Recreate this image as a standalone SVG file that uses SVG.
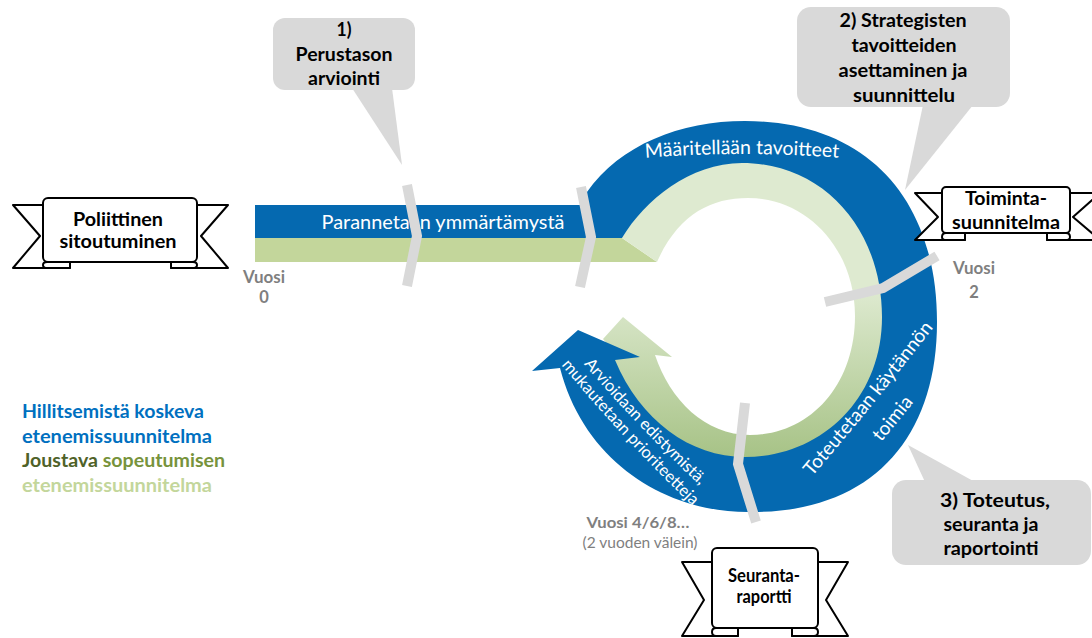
<svg xmlns="http://www.w3.org/2000/svg" width="1092" height="638" viewBox="0 0 1092 638">
<defs>
<style>
.b{font-family:Lato,"Liberation Sans",sans-serif;font-weight:700}
.r{font-family:Lato,"Liberation Sans",sans-serif;font-weight:400}
.call{fill:#d9d9d9}
.ct{fill:#000;font-size:19px;text-anchor:middle}
.rib{fill:#fff;stroke:#000;stroke-width:2;stroke-linejoin:round}
.chev{fill:none;stroke:#d9d9d9;stroke-width:10;stroke-linejoin:miter;stroke-linecap:butt}
.wt{fill:#fff}
.yr{fill:#7f7f7f;text-anchor:middle}
</style>
<linearGradient id="gg" gradientUnits="userSpaceOnUse" x1="0" y1="290" x2="0" y2="460">
<stop offset="0" stop-color="#deead0"/>
<stop offset="1" stop-color="#a6c285"/>
</linearGradient>
<path id="tp1" d="M600 162 Q742 146 884 162"/>
<path id="tp2" d="M791 501 Q875 405 953 302"/>
<path id="tp3" d="M814.6 520.3 Q898.6 424.3 976.6 321.3"/>
<path id="tp4" d="M567.3 344.3 Q637.2 429 718.7 502.7"/>
<path id="tp5" d="M546 346.5 Q622 440 709.9 522.5"/>
</defs>
<rect width="1092" height="638" fill="#fff"/>

<g id="flow">
<path fill="#c3d69b" d="M255 238 H622 L657 262 H255 Z"/>
<path fill="url(#gg)" d="M622 238 C645 198 690 161 742 161 C826 161 884 230 884 317 C884 402 820 459 745 459 C675 462 612 420 608 345 L603 339 L623 317 L672 357 L655 355 C670 400 705 435 750 435 C810 435 855 385 855 316 C855 250 808 198 748 198 C710 198 678 215 657 262 Z"/>
<path fill="#0569b0" d="M622 238 L255 238 L255 205 L587 205 L587 192 C620 145 680 121 745 121 C866 121 937 198 937 322 C937 440 870 512 753 512 C670 514 585 465 560 368 L532 371 L578 330 L640 357 L615 360 C640 420 690 457 745 457 C820 457 882 400 882 317 C882 230 824 163 742 163 C690 163 645 200 622 238 Z"/>
</g>

<g id="labels-flow">
<text class="r wt" x="443" y="229" font-size="20" text-anchor="middle" textLength="243" lengthAdjust="spacingAndGlyphs">Parannetaan ymmärtämystä</text>
<text class="r wt" font-size="19.5"><textPath href="#tp1" startOffset="50%" text-anchor="middle">Määritellään tavoitteet</textPath></text>
<text class="r wt" font-size="19"><textPath href="#tp2" startOffset="50%" text-anchor="middle">Toteutetaan käytännön</textPath></text>
<text class="r wt" font-size="19"><textPath href="#tp3" startOffset="50%" text-anchor="middle">toimia</textPath></text>
<text class="r wt" font-size="16.5"><textPath href="#tp4" startOffset="50%" text-anchor="middle">Arvioidaan edistymistä,</textPath></text>
<text class="r wt" font-size="16.5"><textPath href="#tp5" startOffset="50%" text-anchor="middle">mukautetaan prioriteetteja</textPath></text>
</g>

<g id="milestones">
<polyline class="chev" points="407,185 417,236 407,286"/>
<polyline class="chev" points="581,187 591,237 580,287"/>
<polyline class="chev" points="825,302 883,288 937,256"/>
<polyline class="chev" points="745,403 738,464 756,522"/>
</g>

<g id="year-labels" class="b">
<text class="yr" x="264" y="283" font-size="16.5" textLength="42" lengthAdjust="spacingAndGlyphs">Vuosi</text>
<text class="yr" x="264" y="303" font-size="16.5">0</text>
<text class="yr" x="974" y="274" font-size="16.5" textLength="42" lengthAdjust="spacingAndGlyphs">Vuosi</text>
<text class="yr" x="974" y="298" font-size="16.5">2</text>
<text class="yr" x="638" y="528" font-size="16" textLength="103" lengthAdjust="spacingAndGlyphs">Vuosi 4/6/8…</text>
<text class="r yr" x="640" y="548" font-size="15" textLength="115" lengthAdjust="spacingAndGlyphs">(2 vuoden välein)</text>
</g>

<g id="callout-1">
<rect class="call" x="273" y="18" width="142" height="72" rx="12"/>
<path class="call" d="M352 88 L392 88 L402 165 Z"/>
<text class="b ct" x="344" y="36" textLength="15" lengthAdjust="spacingAndGlyphs">1)</text>
<text class="b ct" x="344" y="61" textLength="97" lengthAdjust="spacingAndGlyphs">Perustason</text>
<text class="b ct" x="344" y="85" textLength="72" lengthAdjust="spacingAndGlyphs">arviointi</text>
</g>

<g id="callout-2">
<rect class="call" x="797" y="7" width="213" height="100" rx="14"/>
<path class="call" d="M923 105 L973 105 L905 190 Z"/>
<text class="b ct" x="903" y="27" textLength="127" lengthAdjust="spacingAndGlyphs">2) Strategisten</text>
<text class="b ct" x="904" y="52" textLength="105" lengthAdjust="spacingAndGlyphs">tavoitteiden</text>
<text class="b ct" x="903" y="77" textLength="129" lengthAdjust="spacingAndGlyphs">asettaminen ja</text>
<text class="b ct" x="904" y="102" textLength="102" lengthAdjust="spacingAndGlyphs">suunnittelu</text>
</g>

<g id="callout-3">
<rect class="call" x="892" y="480" width="199" height="85" rx="14"/>
<path class="call" d="M908 445 L925 482 L975 482 Z"/>
<text class="b ct" x="995" y="507" textLength="110" lengthAdjust="spacingAndGlyphs">3) Toteutus,</text>
<text class="b ct" x="991" y="531" textLength="95" lengthAdjust="spacingAndGlyphs">seuranta ja</text>
<text class="b ct" x="991" y="555" textLength="95" lengthAdjust="spacingAndGlyphs">raportointi</text>
</g>

<g id="banner-poliittinen">
<path class="rib" d="M13 205 H70 V268 H13 L40 236 Z"/>
<path class="rib" d="M228 205 H171 V268 H228 L201 236 Z"/>
<path class="rib" d="M70 262 V268 H47 Q43 268 43 265 Q43 262 47 262 Z"/>
<path class="rib" d="M171 262 V268 H193 Q197 268 197 265 Q197 262 193 262 Z"/>
<rect class="rib" x="43" y="198" width="154" height="64" rx="5"/>
<text class="b ct" x="118" y="226" textLength="90" lengthAdjust="spacingAndGlyphs">Poliittinen</text>
<text class="b ct" x="118" y="248" textLength="117" lengthAdjust="spacingAndGlyphs">sitoutuminen</text>
</g>

<g id="banner-toiminta">
<path class="rib" d="M915 193 H965 V240 H915 L938 217 Z"/>
<path class="rib" d="M1100 193 H1047 V240 H1100 L1073 217 Z"/>
<path class="rib" d="M965 233 V240 H946 Q942 240 942 237 Q942 233 946 233 Z"/>
<path class="rib" d="M1047 233 V240 H1066 Q1070 240 1070 237 Q1070 233 1066 233 Z"/>
<rect class="rib" x="942" y="187" width="128" height="46" rx="4"/>
<text class="b ct" x="1006" y="205" textLength="82" lengthAdjust="spacingAndGlyphs">Toiminta-</text>
<text class="b ct" x="1006" y="229" textLength="108" lengthAdjust="spacingAndGlyphs">suunnitelma</text>
</g>

<g id="banner-seuranta">
<path class="rib" d="M682 562 H738 V636 H682 L704 600 Z"/>
<path class="rib" d="M848 562 H792 V636 H848 L826 600 Z"/>
<path class="rib" d="M738 628 V636 H716 Q712 636 712 632 Q712 628 716 628 Z"/>
<path class="rib" d="M792 628 V636 H814 Q818 636 818 632 Q818 628 814 628 Z"/>
<rect class="rib" x="712" y="548" width="106" height="80" rx="5"/>
<text class="b ct" x="764" y="582" font-size="16" textLength="72" lengthAdjust="spacingAndGlyphs">Seuranta-</text>
<text class="b ct" x="764" y="603" font-size="16" textLength="55" lengthAdjust="spacingAndGlyphs">raportti</text>
</g>

<g id="legend" class="b" font-size="19">
<text x="22" y="418" fill="#0070c0" textLength="182" lengthAdjust="spacingAndGlyphs">Hillitsemistä koskeva</text>
<text x="22" y="443" fill="#0070c0" textLength="190" lengthAdjust="spacingAndGlyphs">etenemissuunnitelma</text>
<text x="22" y="467" textLength="203" lengthAdjust="spacingAndGlyphs"><tspan fill="#4f6228">Joustava </tspan><tspan fill="#77933c">sopeutumisen</tspan></text>
<text x="22" y="492" fill="#c3d69b" textLength="190" lengthAdjust="spacingAndGlyphs">etenemissuunnitelma</text>
</g>
</svg>
